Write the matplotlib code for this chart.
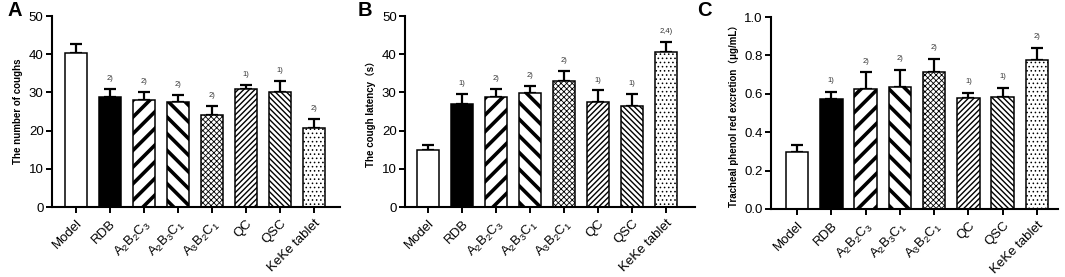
import matplotlib
matplotlib.use('Agg')
import matplotlib.pyplot as plt

plt.rcParams['font.family'] = ['Liberation Sans', 'DejaVu Sans']

groups = ['Model', 'RDB', r'$\mathregular{A_2B_2C_3}$', r'$\mathregular{A_2B_3C_1}$',
          r'$\mathregular{A_3B_2C_1}$', 'QC', 'QSC', 'KeKe tablet']

coughs = [40.2, 28.7, 28.1, 27.6, 24.2, 30.8, 30.1, 20.8]
coughs_err = [2.5, 2.3, 2.1, 1.8, 2.2, 1.2, 2.9, 2.2]
coughs_sig = ['', '2)', '2)', '2)', '2)', '1)', '1)', '2)']

latency = [15.0, 27.0, 28.7, 29.8, 33.0, 27.5, 26.5, 40.5]
latency_err = [1.2, 2.5, 2.1, 2.0, 2.6, 3.0, 3.1, 2.8]
latency_sig = ['', '1)', '2)', '2)', '2)', '1)', '1)', '2,4)']

phenol = [0.295, 0.572, 0.627, 0.638, 0.712, 0.580, 0.585, 0.778]
phenol_err = [0.040, 0.038, 0.085, 0.087, 0.070, 0.025, 0.047, 0.062]
phenol_sig = ['', '1)', '2)', '2)', '2)', '1)', '1)', '2)']

# fill colour, hatch, hatch linewidth
styles = [('white', None, 1.0),
          ('black', None, 1.0),
          ('white', '//', 2.6),
          ('white', '\\\\', 2.6),
          ('white', 'xxxxxx', 0.6),
          ('white', '//////', 1.0),
          ('white', '\\\\\\\\\\\\', 1.0),
          ('white', '....', 0.6)]


def panel(ax, values, errs, sigs, ylabel, ylim, yticks, xlim, sig_pad):
    x = range(len(values))
    for i in x:
        fc, hatch, hlw = styles[i]
        ax.errorbar(i, values[i], yerr=[[0], [errs[i]]], fmt='none', ecolor='black',
                    elinewidth=1.6, capsize=4.3, capthick=1.6, zorder=1)
        with plt.rc_context({'hatch.linewidth': hlw}):
            b = ax.bar(i, values[i], width=0.66, color=fc, edgecolor='black',
                       linewidth=1.1, hatch=hatch, zorder=2)
        for p in b:
            if hasattr(p, 'set_hatch_linewidth'):
                p.set_hatch_linewidth(hlw)
        if sigs[i]:
            ax.text(i, values[i] + errs[i] + sig_pad, sigs[i], ha='center', va='bottom',
                    fontsize=5.5, color='#333333')
    ax.set_xlim(*xlim)
    ax.set_ylim(*ylim)
    ax.set_yticks(yticks)
    ax.set_xticks(list(x))
    ax.set_xticklabels(groups, rotation=45, ha='right', rotation_mode='anchor', fontsize=9.5)
    ax.tick_params(axis='y', labelsize=9.5, width=1.4, length=4, pad=2)
    ax.tick_params(axis='x', width=1.4, length=4)
    ax.set_ylabel(ylabel, fontsize=7, fontweight='bold')
    for s in ['top', 'right']:
        ax.spines[s].set_visible(False)
    for s in ['left', 'bottom']:
        ax.spines[s].set_linewidth(1.5)
    return ax


fig = plt.figure(figsize=(10.65, 2.77), dpi=100)

ax1 = fig.add_axes([0.0488, 0.2527, 0.2704, 0.6895])
panel(ax1, coughs, coughs_err, coughs_sig, 'The number of coughs', (0, 50),
      [0, 10, 20, 30, 40, 50], (-0.7, 7.76), 1.8)

ax2 = fig.add_axes([0.3803, 0.2527, 0.2723, 0.6895])
panel(ax2, latency, latency_err, latency_sig, 'The cough latency\uff08s\uff09', (0, 50),
      [0, 10, 20, 30, 40, 50], (-0.68, 7.86), 1.8)

ax3 = fig.add_axes([0.7239, 0.2455, 0.2695, 0.6931])
panel(ax3, phenol, phenol_err, phenol_sig, 'Tracheal phenol red excretion\uff08\u03bcg/mL\uff09',
      (0, 1.0), [0.0, 0.2, 0.4, 0.6, 0.8, 1.0], (-0.76, 7.61), 0.04)

for letter, xpos in [('A', 0.007), ('B', 0.336), ('C', 0.655)]:
    fig.text(xpos, 0.995, letter, fontsize=14.5, fontweight='bold', va='top', ha='left')

ax2.yaxis.label.set_family(['Liberation Sans', 'Noto Sans CJK SC'])
ax3.yaxis.label.set_family(['Liberation Sans', 'Noto Sans CJK SC'])

fig.savefig('out.png', dpi=100)
